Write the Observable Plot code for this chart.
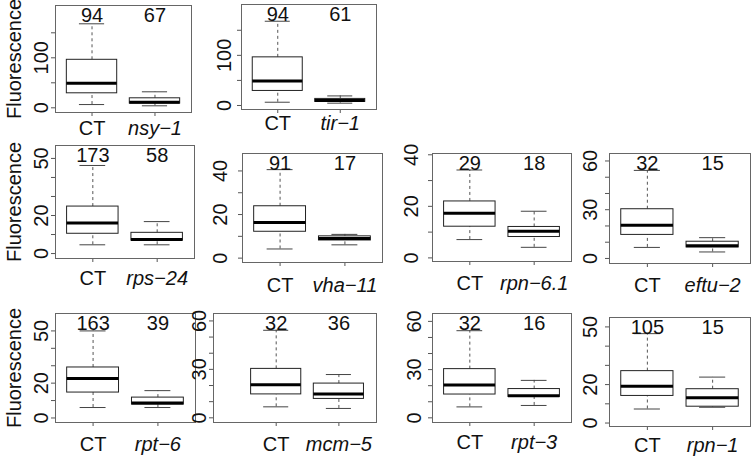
<!DOCTYPE html>
<html><head><meta charset="utf-8">
<script src="https://cdn.jsdelivr.net/npm/d3@7"></script>
<script src="https://cdn.jsdelivr.net/npm/@observablehq/plot@0.6"></script>
<style>
body{margin:0;background:#fff;}
#chart{position:relative;width:752px;height:458px;overflow:hidden;background:#fff;font-family:"Liberation Sans",Arial,sans-serif;}
.panel{position:absolute;}
</style></head><body><div id="chart"></div>
<script>
// ---- data ----
const genes = ["nsy\u22121","tir\u22121","rps\u221224","vha\u221211","rpn\u22126.1","eftu\u22122","rpt\u22126","mcm\u22125","rpt\u22123","rpn\u22121"];
const nCT   = [94, 94, 173, 91, 29, 32, 163, 32, 32, 105];
const nGene = [67, 61, 58, 17, 18, 15, 39, 36, 16, 15];
// [lower whisker, Q1, median, Q3, upper whisker]
const ctStats = [
  [6.5, 29, 49, 96, 168],
  [6.5, 29, 49, 96, 168],
  [4.6, 10.4, 16, 24.7, 46.3],
  [4.2, 12.1, 16.3, 23.8, 40.6],
  [7.1, 12.1, 17.3, 21.9, 34.1],
  [6.8, 14.5, 20.5, 30.3, 54.2],
  [6.0, 14.6, 22.6, 29, 50],
  [6.8, 14.5, 20.5, 30.3, 54.2],
  [6.8, 14.5, 20.5, 30.3, 54.2],
  [7.3, 14.1, 19.1, 27, 46.5]
];
const geneStats = [
  [4, 8.5, 11, 19, 32],
  [4.6, 7.2, 10, 13.1, 19.1],
  [4.6, 6.8, 7.4, 10.9, 16.8],
  [6.1, 8.1, 9.0, 10, 10.9],
  [4.1, 8.1, 10.3, 12, 18.1],
  [4.0, 6.8, 7.8, 10.3, 12.8],
  [6.0, 7.7, 8.6, 11.7, 15.7],
  [5.8, 11.7, 14.8, 21.2, 26.8],
  [7.7, 13.0, 13.8, 17.9, 23.3],
  [8.2, 8.5, 13.2, 17.6, 23.9]
];
const yTicks = [
  [0,50,100,150],[0,50,100,150],
  [0,10,20,30,40,50],[0,10,20,30,40],[0,10,20,30,40],[0,10,20,30,40,50,60],
  [0,10,20,30,40,50],[0,10,20,30,40,50,60],[0,10,20,30,40,50,60],[0,10,20,30,40,50]
];
const yLabels = [
  [0,100],[0,100],
  [0,20,50],[0,20,40],[0,20,40],[0,30,60],
  [0,20,50],[0,30,60],[0,30,60],[0,20,50]
];
const yTitle = "Fluorescence";
const ctLabel = "CT";

// ---- layout (frame box in page pixels, scale domains) ----
const layout = [
  {L:55,  R:191, T:5,   B:112, xd:[0.42,2.58], yd:[-9.4,204.6], yPad:4,  xPad:4,  title:true},
  {L:241, R:376, T:4,   B:109, xd:[0.42,2.58], yd:[-8,201.4],   yPad:7,  xPad:2},
  {L:55,  R:194, T:145, B:258, xd:[0.42,2.58], yd:[-2.6,56.8],  yPad:4,  xPad:8,  title:true},
  {L:242, R:382, T:153, B:262, xd:[0.42,2.58], yd:[-2.0,48.0],  yPad:12, xPad:11},
  {L:432, R:571, T:153, B:261, xd:[0.42,2.58], yd:[-1.4,40.5],  yPad:11, xPad:10},
  {L:609, R:750, T:153, B:263, xd:[0.42,2.58], yd:[-3.1,64.6],  yPad:9,  xPad:10},
  {L:55,  R:195, T:313, B:422, xd:[0.42,2.58], yd:[-2.6,60],    yPad:4,  xPad:10, title:true},
  {L:213, R:376, T:313, B:422, xd:[0.0,2.6],   yd:[-2.9,64.6],  yPad:4,  xPad:10},
  {L:432, R:571, T:313, B:422, xd:[0.42,2.58], yd:[-2.9,64.9],  yPad:8,  xPad:8},
  {L:609, R:750, T:317, B:426, xd:[0.42,2.58], yd:[-1.8,54.9],  yPad:9,  xPad:7}
];

const chart = document.getElementById("chart");
layout.forEach((lay, k) => {
  const groups = [
    {i: 1, n: nCT[k], s: ctStats[k]},
    {i: 2, n: nGene[k], s: geneStats[k]}
  ].map(d => ({i: d.i, n: d.n, lo: d.s[0], q1: d.s[1], med: d.s[2], q3: d.s[3], hi: d.s[4]}));
  const mL = lay.title ? lay.L : 45, mR = 2, mT = 3, mB = 36;
  const w = lay.R - lay.L, h = lay.B - lay.T;
  const fs = 20;
  const marks = [
    Plot.ruleX(groups, {x: "i", y1: "q3", y2: "hi", stroke: "#555", strokeDasharray: "3,3"}),
    Plot.ruleX(groups, {x: "i", y1: "lo", y2: "q1", stroke: "#555", strokeDasharray: "3,3"}),
    Plot.ruleY(groups, {y: "hi", x1: d => d.i - 0.2, x2: d => d.i + 0.2, stroke: "#444"}),
    Plot.ruleY(groups, {y: "lo", x1: d => d.i - 0.2, x2: d => d.i + 0.2, stroke: "#444"}),
    Plot.rect(groups, {x1: d => d.i - 0.4, x2: d => d.i + 0.4, y1: "q1", y2: "q3", fill: "white", stroke: "#222"}),
    Plot.ruleY(groups, {y: "med", x1: d => d.i - 0.4, x2: d => d.i + 0.4, stroke: "#000", strokeWidth: 3}),
    Plot.text(groups, {x: "i", frameAnchor: "top", text: d => String(d.n), lineAnchor: "top", dy: 2, fontSize: fs, fill: "#111"}),
    Plot.axisY({ticks: yTicks[k], label: null, tickSize: 4, tickPadding: lay.yPad, tickRotate: -90,
      tickFormat: d => yLabels[k].includes(d) ? String(d) : "", fontSize: fs, stroke: "#555", fill: "#111"}),
    Plot.axisX({ticks: [1], label: null, tickFormat: () => ctLabel, tickSize: 4, tickPadding: lay.xPad, fontSize: fs, stroke: "#555", fill: "#111"}),
    Plot.axisX({ticks: [2], label: null, tickFormat: () => genes[k], tickSize: 4, tickPadding: lay.xPad, fontSize: fs, fontStyle: "italic", stroke: "#555", fill: "#111"}),
    Plot.frame({stroke: "#666"})
  ];
  if (lay.title) {
    marks.push(Plot.text([yTitle], {frameAnchor: "left", text: d => d, rotate: -90, textAnchor: "middle", lineAnchor: "middle", dx: -41, fontSize: fs, fill: "#111"}));
  }
  const p = Plot.plot({
    width: w + mL + mR,
    height: h + mT + mB,
    marginLeft: mL, marginRight: mR, marginTop: mT, marginBottom: mB,
    x: {type: "linear", domain: lay.xd, axis: null},
    y: {type: "linear", domain: lay.yd, axis: null},
    style: {fontFamily: '"Liberation Sans", Arial, sans-serif', fontSize: "20px", background: "transparent", overflow: "visible"},
    marks
  });
  const div = document.createElement("div");
  div.className = "panel";
  div.style.left = (lay.L - mL) + "px";
  div.style.top = (lay.T - mT) + "px";
  div.style.width = (w + mL + mR) + "px";
  div.appendChild(p);
  chart.appendChild(div);
});
</script>
</body></html>
